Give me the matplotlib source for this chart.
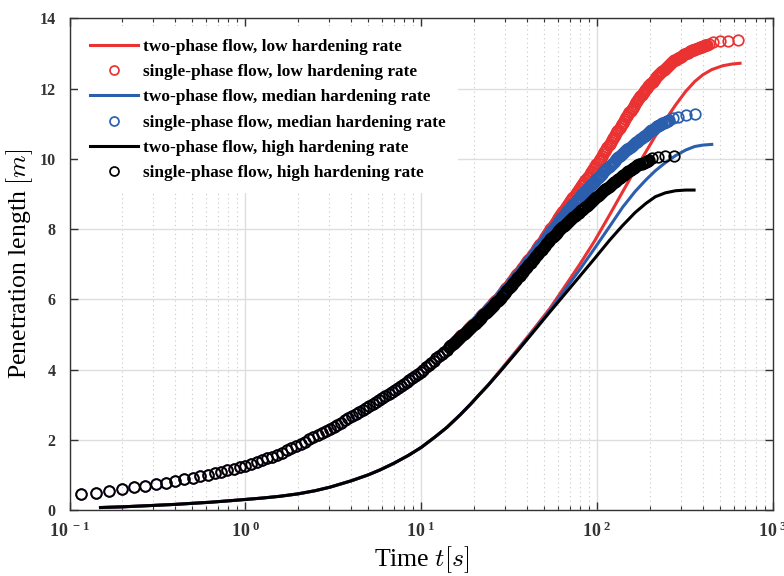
import matplotlib
matplotlib.use("Agg")
import matplotlib.pyplot as plt
import numpy as np
from matplotlib.ticker import FixedLocator, LogLocator, NullFormatter

plt.rcParams['font.family'] = 'Liberation Serif'
plt.rcParams['mathtext.fontset'] = 'custom'
plt.rcParams['mathtext.rm'] = 'Liberation Serif:bold'
plt.rcParams['mathtext.it'] = 'Liberation Serif:bold'
plt.rcParams['mathtext.bf'] = 'Liberation Serif:bold'

# ---- two-phase flow (lines) ----
# early part is the same for all three hardening rates
t_two_early = [0.15, 0.2, 0.3, 0.4, 0.5, 0.63, 0.8, 1.0, 1.25, 1.57, 2.0, 2.5, 3.03,
               4.0, 5.0, 5.83, 7.0, 8.5, 10, 12, 14, 16.6, 19, 21.1, 24]
L_two_early = [0.07, 0.09, 0.13, 0.16, 0.19, 0.22, 0.26, 0.30, 0.34, 0.39, 0.46, 0.55, 0.65,
               0.83, 1.00, 1.14, 1.33, 1.56, 1.78, 2.08, 2.35, 2.70, 3.00, 3.25, 3.55]

t_two_low = [28, 35, 44, 54, 66, 80, 97, 118, 140, 165, 190, 215, 245, 280, 320, 360,
             400, 450, 520, 590, 652]
L_two_low = [3.96, 4.55, 5.17, 5.74, 6.38, 7.00, 7.66, 8.40, 9.06, 9.69, 10.20, 10.65,
             11.10, 11.53, 11.92, 12.20, 12.39, 12.54, 12.65, 12.70, 12.72]

t_two_med = [28, 35, 44, 54, 66, 80, 97, 118, 140, 165, 190, 215, 245, 280, 320, 360, 400, 450]
L_two_med = [3.94, 4.52, 5.13, 5.68, 6.28, 6.85, 7.45, 8.07, 8.62, 9.07, 9.40, 9.66,
             9.89, 10.09, 10.25, 10.35, 10.39, 10.41]

t_two_high = [28, 35, 44, 54, 66, 80, 97, 118, 140, 165, 190, 215, 245, 280, 320, 357]
L_two_high = [3.93, 4.50, 5.10, 5.64, 6.16, 6.66, 7.16, 7.68, 8.10, 8.47, 8.73, 8.92,
              9.03, 9.09, 9.11, 9.11]

# ---- single-phase flow (circles) ----
# early samples, identical for the three rates
t_one_early = [0.116, 0.141, 0.168, 0.199, 0.233, 0.270, 0.310, 0.354, 0.398, 0.448, 0.502,
               0.555, 0.61, 0.67, 0.73, 0.79, 0.86, 0.93, 1.0, 1.08, 1.16, 1.24, 1.33, 1.42,
               1.52, 1.62, 1.72, 1.83, 1.94, 2.06, 2.18, 2.31, 2.44, 2.58, 2.72, 2.87, 3.02,
               3.18, 3.34, 3.51, 3.68, 3.86, 4.05, 4.24, 4.44, 4.65, 4.86, 5.08, 5.30, 5.53,
               5.77, 6.02, 6.27, 6.53, 6.80, 7.08, 7.36, 7.65, 7.95, 8.26, 8.57, 8.90, 9.23,
               9.57, 9.92, 10.28, 10.65, 11.03, 11.42, 11.82, 12.23, 12.65, 13.08, 13.52, 13.97]
L_one_early = [0.46, 0.49, 0.55, 0.59, 0.65, 0.69, 0.74, 0.78, 0.83, 0.87, 0.92,
               0.96, 1.00, 1.04, 1.08, 1.13, 1.18, 1.22, 1.26, 1.32, 1.37, 1.42, 1.48, 1.52,
               1.58, 1.63, 1.70, 1.76, 1.83, 1.89, 1.95, 2.01, 2.07, 2.14, 2.19, 2.25, 2.31,
               2.37, 2.43, 2.49, 2.55, 2.61, 2.67, 2.73, 2.78, 2.84, 2.90, 2.96, 3.02, 3.07,
               3.13, 3.19, 3.24, 3.30, 3.35, 3.41, 3.46, 3.52, 3.59, 3.65, 3.70, 3.76, 3.82,
               3.88, 3.94, 4.00, 4.06, 4.13, 4.19, 4.25, 4.32, 4.38, 4.44, 4.50, 4.56]

# later output times (dense); each rate stops at its own length
t_one_tail = [
    14.45, 14.66, 14.88, 15.10, 15.31, 15.53, 15.76, 15.99, 16.22, 16.46, 16.69, 16.93,
    17.18, 17.43, 17.68, 17.94, 18.20, 18.46, 18.73, 19.00, 19.28, 19.56, 19.84, 20.13,
    20.42, 20.72, 21.02, 21.32, 21.63, 21.94, 22.26, 22.58, 22.91, 23.24, 23.58, 23.92,
    24.27, 24.62, 24.97, 25.33, 25.70, 26.07, 26.45, 26.83, 27.23, 27.62, 28.02, 28.43,
    28.84, 29.26, 29.68, 30.11, 30.55, 30.99, 31.44, 31.90, 32.36, 32.83, 33.30, 33.78,
    34.28, 34.78, 35.28, 35.79, 36.31, 36.84, 37.37, 37.91, 38.46, 39.02, 39.58, 40.15,
    40.74, 41.33, 41.93, 42.54, 43.15, 43.78, 44.41, 45.05, 45.71, 46.37, 47.04, 47.72,
    48.42, 49.12, 49.83, 50.55, 51.29, 52.03, 52.78, 53.55, 54.33, 55.12, 55.91, 56.72,
    57.54, 58.37, 59.22, 60.08, 60.95, 61.83, 62.73, 63.64, 64.57, 65.51, 66.45, 67.41,
    68.39, 69.38, 70.39, 71.41, 72.44, 73.49, 74.56, 75.64, 76.74, 77.85, 78.98, 80.13,
    81.28, 82.46, 83.66, 84.87, 86.10, 87.35, 88.61, 89.89, 91.20, 92.52, 93.87, 95.23,
    96.61, 98.01, 99.43, 100.9, 102.3, 103.8, 105.3, 106.8, 108.4, 110.0, 111.5, 113.1,
    114.8, 116.5, 118.1, 119.8, 121.6, 123.4, 125.1, 126.9, 128.8, 130.7, 132.6, 134.5,
    136.5, 138.5, 140.4, 142.4, 144.5, 146.6, 148.8, 151.0, 153.1, 155.3, 157.6, 159.9,
    162.2, 164.6, 166.9, 169.3, 171.8, 174.3, 176.8, 179.4, 182.0, 184.6, 187.3, 190.0,
    192.8, 195.6, 198.4, 201.3, 204.2, 207.2, 210.2, 213.2, 216.3, 219.4, 222.6, 225.8,
    229.1, 232.4, 235.8, 239.2, 242.7, 246.2, 249.8, 253.4, 257.0, 260.7, 264.5, 268.3,
    272.3, 276.2, 280.2, 284.3, 288.4, 292.6, 296.8, 301.1, 305.5, 309.9, 314.4, 319.0,
    323.6, 328.3, 333.0, 337.8, 342.8, 347.8, 352.8, 357.9, 363.1, 368.4, 373.7, 379.1,
    384.6, 390.2, 395.8, 401.5, 407.4, 413.3, 419.3, 425.4, 431.5]

L_one_low = [
    4.64, 4.67, 4.70, 4.73, 4.76, 4.79, 4.82, 4.85, 4.88, 4.91, 4.94, 4.97,
    4.99, 5.02, 5.05, 5.08, 5.11, 5.14, 5.17, 5.20, 5.23, 5.26, 5.29, 5.32,
    5.36, 5.39, 5.42, 5.45, 5.49, 5.52, 5.55, 5.58, 5.62, 5.65, 5.69, 5.72,
    5.75, 5.78, 5.82, 5.85, 5.88, 5.91, 5.95, 5.98, 6.02, 6.05, 6.08, 6.12,
    6.16, 6.20, 6.24, 6.28, 6.32, 6.36, 6.40, 6.44, 6.48, 6.52, 6.56, 6.60,
    6.64, 6.68, 6.72, 6.76, 6.80, 6.84, 6.88, 6.92, 6.96, 7.00, 7.04, 7.08,
    7.12, 7.16, 7.20, 7.24, 7.28, 7.32, 7.36, 7.40, 7.45, 7.49, 7.54, 7.58,
    7.63, 7.67, 7.72, 7.76, 7.81, 7.85, 7.90, 7.94, 7.99, 8.03, 8.08, 8.12,
    8.17, 8.21, 8.26, 8.30, 8.35, 8.39, 8.44, 8.48, 8.53, 8.57, 8.62, 8.66,
    8.71, 8.75, 8.79, 8.83, 8.88, 8.92, 8.97, 9.01, 9.05, 9.09, 9.14, 9.18,
    9.22, 9.26, 9.31, 9.35, 9.40, 9.44, 9.48, 9.52, 9.57, 9.61, 9.65, 9.70,
    9.75, 9.79, 9.84, 9.89, 9.94, 9.98, 10.03, 10.08, 10.13, 10.18, 10.23, 10.28,
    10.33, 10.38, 10.43, 10.48, 10.53, 10.58, 10.63, 10.68, 10.73, 10.78, 10.83, 10.88,
    10.93, 10.98, 11.03, 11.08, 11.13, 11.18, 11.23, 11.28, 11.33, 11.37, 11.42, 11.46,
    11.51, 11.56, 11.61, 11.65, 11.70, 11.74, 11.79, 11.83, 11.88, 11.91, 11.95, 11.99,
    12.03, 12.06, 12.10, 12.13, 12.17, 12.20, 12.24, 12.28, 12.32, 12.35, 12.39, 12.42,
    12.45, 12.47, 12.50, 12.53, 12.56, 12.58, 12.61, 12.64, 12.67, 12.70, 12.73, 12.75,
    12.78, 12.80, 12.82, 12.84, 12.86, 12.87, 12.89, 12.91, 12.93, 12.95, 12.97, 12.99,
    13.01, 13.02, 13.04, 13.06, 13.08, 13.09, 13.10, 13.11, 13.12, 13.13, 13.15, 13.16,
    13.17, 13.18, 13.19, 13.20, 13.22, 13.23, 13.24, 13.25, 13.26]
t_one_low_end = [459, 501, 555, 637]
L_one_low_end = [13.32, 13.35, 13.36, 13.38]

L_one_med = [
    4.63, 4.66, 4.69, 4.72, 4.75, 4.78, 4.81, 4.84, 4.87, 4.90, 4.93, 4.95,
    4.98, 5.01, 5.04, 5.07, 5.10, 5.13, 5.16, 5.19, 5.22, 5.25, 5.28, 5.31,
    5.35, 5.38, 5.41, 5.44, 5.48, 5.51, 5.54, 5.57, 5.61, 5.64, 5.67, 5.70,
    5.74, 5.77, 5.80, 5.83, 5.87, 5.90, 5.93, 5.96, 6.00, 6.03, 6.06, 6.10,
    6.14, 6.17, 6.21, 6.25, 6.29, 6.32, 6.36, 6.40, 6.44, 6.47, 6.51, 6.55,
    6.59, 6.62, 6.66, 6.70, 6.74, 6.78, 6.82, 6.86, 6.90, 6.94, 6.99, 7.03,
    7.07, 7.11, 7.15, 7.19, 7.23, 7.27, 7.31, 7.35, 7.40, 7.44, 7.48, 7.52,
    7.56, 7.60, 7.64, 7.68, 7.72, 7.76, 7.81, 7.85, 7.89, 7.93, 7.97, 8.01,
    8.05, 8.09, 8.14, 8.18, 8.22, 8.26, 8.30, 8.34, 8.38, 8.42, 8.47, 8.50,
    8.54, 8.57, 8.61, 8.64, 8.68, 8.71, 8.75, 8.78, 8.82, 8.85, 8.89, 8.92,
    8.96, 8.99, 9.03, 9.06, 9.09, 9.12, 9.16, 9.19, 9.22, 9.25, 9.29, 9.32,
    9.35, 9.38, 9.42, 9.45, 9.48, 9.51, 9.54, 9.57, 9.61, 9.64, 9.67, 9.70,
    9.73, 9.76, 9.79, 9.82, 9.86, 9.89, 9.92, 9.95, 9.98, 10.01, 10.04, 10.07,
    10.11, 10.14, 10.17, 10.19, 10.22, 10.24, 10.27, 10.29, 10.32, 10.34, 10.37, 10.39,
    10.42, 10.44, 10.47, 10.49, 10.52, 10.54, 10.57, 10.59, 10.62, 10.64, 10.66, 10.68,
    10.71, 10.73, 10.76, 10.78, 10.81, 10.83, 10.85, 10.87, 10.90, 10.92, 10.94, 10.95,
    10.97, 10.99, 11.01, 11.02, 11.04, 11.06, 11.08, 11.09, 11.11]
t_one_med_end = [270, 290, 321, 361]
L_one_med_end = [11.15, 11.20, 11.25, 11.28]

L_one_high = [
    4.63, 4.66, 4.69, 4.72, 4.75, 4.77, 4.80, 4.83, 4.86, 4.89, 4.92, 4.95,
    4.98, 5.00, 5.03, 5.06, 5.09, 5.12, 5.15, 5.17, 5.20, 5.23, 5.26, 5.29,
    5.32, 5.35, 5.39, 5.42, 5.45, 5.48, 5.51, 5.54, 5.57, 5.60, 5.64, 5.67,
    5.70, 5.73, 5.76, 5.79, 5.82, 5.85, 5.89, 5.92, 5.95, 5.98, 6.01, 6.05,
    6.08, 6.12, 6.16, 6.19, 6.23, 6.27, 6.31, 6.34, 6.38, 6.42, 6.45, 6.49,
    6.53, 6.56, 6.60, 6.64, 6.67, 6.71, 6.75, 6.78, 6.82, 6.86, 6.90, 6.93,
    6.97, 7.01, 7.04, 7.08, 7.12, 7.15, 7.19, 7.23, 7.27, 7.30, 7.34, 7.38,
    7.41, 7.45, 7.49, 7.52, 7.56, 7.60, 7.64, 7.67, 7.71, 7.74, 7.77, 7.80,
    7.83, 7.86, 7.90, 7.93, 7.96, 7.99, 8.02, 8.05, 8.08, 8.11, 8.14, 8.17,
    8.20, 8.23, 8.26, 8.28, 8.31, 8.34, 8.37, 8.39, 8.42, 8.45, 8.47, 8.50,
    8.53, 8.55, 8.58, 8.61, 8.64, 8.66, 8.69, 8.72, 8.75, 8.77, 8.80, 8.83,
    8.86, 8.89, 8.92, 8.94, 8.97, 9.00, 9.03, 9.05, 9.08, 9.10, 9.13, 9.15,
    9.18, 9.20, 9.23, 9.25, 9.28, 9.30, 9.33, 9.35, 9.38, 9.40, 9.43, 9.45,
    9.48, 9.50, 9.53, 9.55, 9.57, 9.59, 9.62, 9.64, 9.66, 9.68, 9.71, 9.73,
    9.75, 9.77, 9.80, 9.81, 9.83, 9.84, 9.85, 9.86, 9.88, 9.89, 9.91, 9.92,
    9.94, 9.95, 9.96]
t_one_high_end = [205, 223, 244, 275]
L_one_high_end = [10.01, 10.04, 10.08, 10.09]

labels = ['two-phase flow, low hardening rate',
          'single-phase flow, low hardening rate',
          'two-phase flow, median hardening rate',
          'single-phase flow, median hardening rate',
          'two-phase flow, high hardening rate',
          'single-phase flow, high hardening rate']

red = '#ea3232'
blue = '#2b5fae'
black = '#000000'


def two_phase(t_tail, L_tail):
    return np.concatenate([t_two_early, t_tail]), np.concatenate([L_two_early, L_tail])


def single_phase(L_tail, t_end, L_end):
    n = len(L_tail)
    t = np.concatenate([t_one_early, t_one_tail[:n], t_end])
    L = np.concatenate([L_one_early, L_tail, L_end])
    return t, L


fig = plt.figure(figsize=(7.84, 5.76), dpi=100)
ax = fig.add_axes([0.0887, 0.1146, 0.8969, 0.8536])

series = [
    (two_phase(t_two_low, L_two_low), single_phase(L_one_low, t_one_low_end, L_one_low_end), red),
    (two_phase(t_two_med, L_two_med), single_phase(L_one_med, t_one_med_end, L_one_med_end), blue),
    (two_phase(t_two_high, L_two_high), single_phase(L_one_high, t_one_high_end, L_one_high_end), black),
]

for i, ((tl, Ll), (tc, Lc), c) in enumerate(series):
    ax.plot(tl, Ll, '-', color=c, lw=2.2, label=labels[2 * i])
    ax.plot(tc, Lc, 'o', ls='none', ms=7.6, mfc='none', mec=c, mew=1.25,
            label=labels[2 * i + 1])

ax.set_xscale('log')
ax.set_xlim(0.1, 1000)
ax.set_ylim(0, 14)

ax.xaxis.set_major_locator(FixedLocator([0.1, 1, 10, 100, 1000]))
ax.xaxis.set_minor_locator(LogLocator(base=10, subs=np.arange(2, 10)))
ax.xaxis.set_minor_formatter(NullFormatter())
ax.set_xticklabels([r'$10^{\ -1}$', r'$10^{\ 0}$', r'$10^{\ 1}$', r'$10^{\ 2}$', r'$10^{\ 3}$'],
                   fontsize=13)
ax.set_yticks(np.arange(0, 15, 2))
ax.set_yticklabels([str(v) for v in range(0, 15, 2)], fontsize=11.5, fontweight='bold')

ax.tick_params(which='major', direction='in', length=6, width=1, top=True, right=True,
               colors='#333333', labelcolor='#333333')
ax.tick_params(which='minor', direction='in', length=3, width=0.8, top=True, right=True,
               colors='#333333')
ax.tick_params(axis='y', pad=10)
ax.tick_params(axis='x', pad=8)

ax.grid(True, which='major', color='#dedede', lw=1.0, ls='-')
ax.grid(True, which='minor', axis='x', color='#c8c8c8', lw=0.8, ls=(0, (1, 3)))
ax.set_axisbelow(True)
for sp in ax.spines.values():
    sp.set_color('#333333')
    sp.set_linewidth(1.0)

ax.set_xlabel('Time $t[s]$', fontsize=18.5, math_fontfamily='cm', labelpad=3)
ax.set_ylabel('Penetration length $[m]$', fontsize=18.5, math_fontfamily='cm', labelpad=3)

leg = ax.legend(loc='upper left', bbox_to_anchor=(0.0, 1.0), frameon=True, fancybox=False,
                edgecolor='none', facecolor='white', framealpha=1.0,
                prop={'family': 'Liberation Serif', 'weight': 'bold', 'size': 12.4},
                handlelength=2.75, handletextpad=0.3, labelspacing=0.53, markerscale=0.85,
                borderpad=0.7, borderaxespad=0.5)

fig.savefig('out.png', dpi=100)
